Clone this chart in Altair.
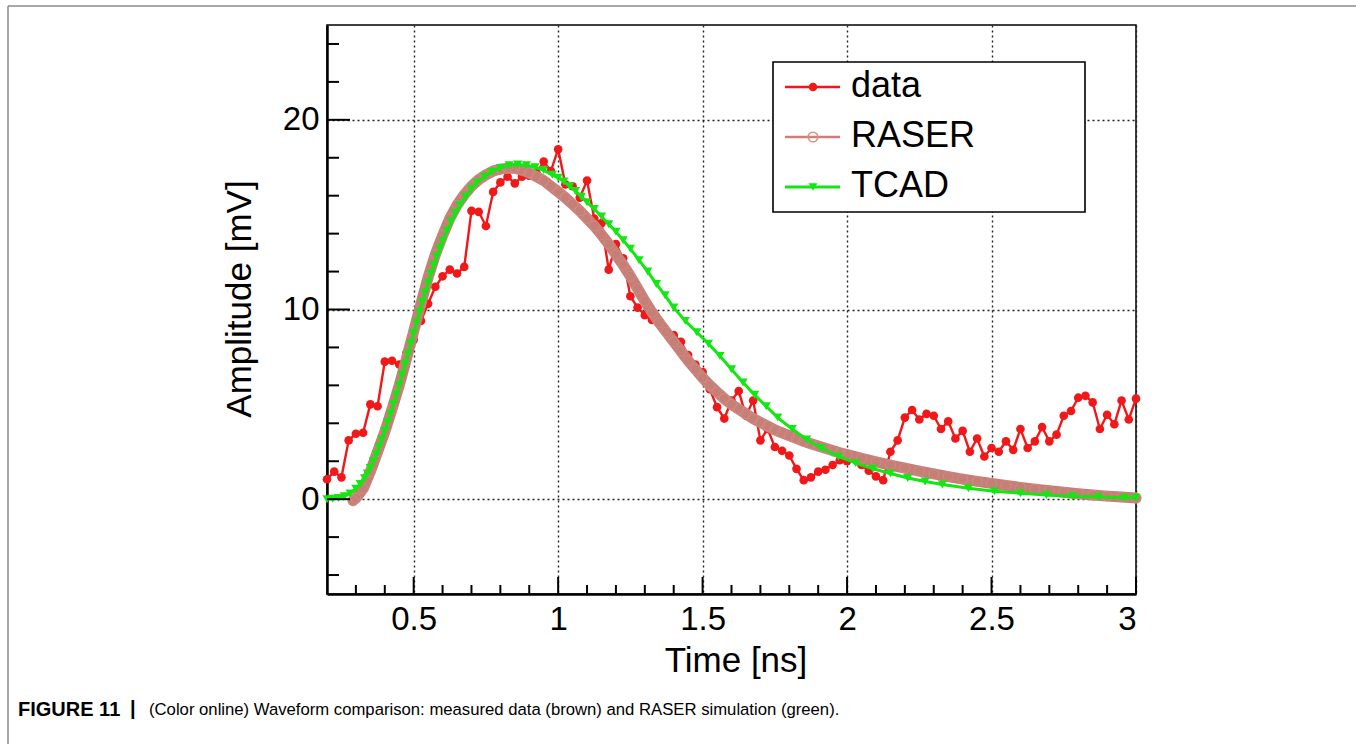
import altair as alt
import pandas as pd

FONT = "Liberation Sans"

# ---------------- data ----------------
data_t = [0.2, 0.225, 0.25, 0.275, 0.3, 0.325, 0.35, 0.375, 0.4, 0.425, 0.45, 0.475, 0.5, 0.525, 0.55, 0.575,
          0.6, 0.625, 0.65, 0.675, 0.7, 0.725, 0.75, 0.775, 0.8, 0.825, 0.85, 0.875, 0.9, 0.925, 0.95, 0.975,
          1.0, 1.025, 1.05, 1.075, 1.1, 1.125, 1.15, 1.175, 1.2, 1.225, 1.25, 1.275, 1.3, 1.325, 1.35, 1.375,
          1.4, 1.425, 1.45, 1.475, 1.5, 1.525, 1.55, 1.575, 1.6, 1.625, 1.65, 1.675, 1.7, 1.725, 1.75, 1.775,
          1.8, 1.825, 1.85, 1.875, 1.9, 1.925, 1.95, 1.975, 2.0, 2.025, 2.05, 2.075, 2.1, 2.125, 2.15, 2.175,
          2.2, 2.225, 2.25, 2.275, 2.3, 2.325, 2.35, 2.375, 2.4, 2.425, 2.45, 2.475, 2.5, 2.525, 2.55, 2.575,
          2.6, 2.625, 2.65, 2.675, 2.7, 2.725, 2.75, 2.775, 2.8, 2.825, 2.85, 2.875, 2.9, 2.925, 2.95, 2.975, 3.0]
data_v = [1.05, 1.45, 1.15, 3.10, 3.45, 3.50, 5.00, 4.90, 7.25, 7.30,
          7.10, 7.70, 8.40, 9.40, 10.30, 11.20, 11.75, 12.10, 11.90, 12.25,
          15.20, 15.15, 14.40, 16.20, 16.70, 17.00, 16.65, 17.00, 17.05, 17.20,
          17.80, 17.30, 18.45, 16.60, 16.50, 15.90, 16.80, 14.80, 14.55, 12.10,
          13.45, 12.70, 10.70, 10.10, 9.70, 9.45, 9.40, 8.80, 8.65, 8.30,
          7.60, 7.10, 6.70, 5.80, 4.85, 4.25, 5.20, 5.70, 4.40, 5.20,
          3.10, 3.70, 2.75, 2.55, 2.30, 1.60, 1.00, 1.15, 1.45, 1.55,
          1.80, 2.05, 2.00, 2.20, 1.80, 1.50, 1.20, 1.00, 2.50, 3.10,
          4.30, 4.70, 4.20, 4.50, 4.40, 3.70, 4.10, 3.20, 3.60, 2.50,
          3.20, 2.25, 2.70, 2.50, 3.05, 2.60, 3.70, 2.70, 3.05, 3.80,
          3.05, 3.40, 4.40, 4.65, 5.35, 5.45, 5.10, 3.70, 4.45, 3.95,
          5.20, 4.20, 5.30]

raser_t = [0.29, 0.3, 0.325, 0.35, 0.375, 0.4, 0.425, 0.45, 0.475, 0.5, 0.525, 0.55, 0.575, 0.6, 0.625, 0.65,
           0.675, 0.7, 0.725, 0.75, 0.775, 0.8, 0.825, 0.85, 0.875, 0.9, 0.925, 0.95, 0.975, 1.0, 1.025, 1.05,
           1.075, 1.1, 1.125, 1.15, 1.175, 1.2, 1.225, 1.25, 1.275, 1.3, 1.325, 1.35, 1.375, 1.4, 1.425, 1.45,
           1.475, 1.5, 1.525, 1.55, 1.575, 1.6, 1.625, 1.65, 1.675, 1.7, 1.725, 1.75, 1.775, 1.8, 1.825, 1.85,
           1.875, 1.9, 1.925, 1.95, 1.975, 2.0, 2.05, 2.1, 2.15, 2.2, 2.25, 2.3, 2.35, 2.4, 2.45, 2.5, 2.55,
           2.6, 2.65, 2.7, 2.75, 2.8, 2.85, 2.9, 2.95, 3.0]
raser_v = [-0.08, 0.05,
           0.55, 1.45, 2.5, 3.55, 4.75, 6.0, 7.4, 8.85, 10.3, 11.7,
           12.9, 13.9, 14.8, 15.5, 16.05, 16.5, 16.85, 17.1, 17.3, 17.4,
           17.45, 17.45, 17.35, 17.2, 17.0, 16.8, 16.5, 16.2, 15.9, 15.55,
           15.2, 14.8, 14.4, 13.95, 13.45, 12.9, 12.35, 11.75, 11.1, 10.45,
           9.85, 9.3, 8.8, 8.3, 7.8, 7.3, 6.85, 6.4, 6.0, 5.65,
           5.3, 5.0, 4.75, 4.5, 4.25, 4.05, 3.85, 3.65, 3.5, 3.35,
           3.2, 3.05, 2.92, 2.8, 2.68, 2.56, 2.45, 2.35,
           2.15, 1.97, 1.8, 1.64, 1.48, 1.33, 1.19, 1.06, 0.94, 0.83,
           0.72, 0.62, 0.53, 0.44, 0.36, 0.29, 0.22, 0.16, 0.11, 0.06]

tcad_t = [0.2, 0.22, 0.24, 0.26, 0.28, 0.3, 0.315, 0.33, 0.34, 0.35, 0.36, 0.37, 0.38, 0.39, 0.4, 0.41, 0.42,
          0.43, 0.44, 0.45, 0.46, 0.47, 0.48, 0.49, 0.5, 0.51, 0.52, 0.53, 0.54, 0.55, 0.56, 0.57, 0.58, 0.59,
          0.6, 0.615, 0.63, 0.645, 0.66, 0.68, 0.7, 0.72, 0.745, 0.77, 0.8, 0.83, 0.86, 0.89, 0.92, 0.95, 0.98,
          1.0, 1.02, 1.04, 1.06, 1.08, 1.1, 1.125, 1.15, 1.175, 1.2, 1.225, 1.25, 1.28, 1.31, 1.34, 1.37, 1.4,
          1.44, 1.48, 1.52, 1.56, 1.6, 1.64, 1.68, 1.72, 1.76, 1.81, 1.86, 1.91, 1.97, 2.03, 2.09, 2.15, 2.21,
          2.27, 2.33, 2.42, 2.51, 2.6, 2.69, 2.78, 2.87, 2.96, 3.0]
tcad_v = [0.0, 0.02, 0.06, 0.15, 0.3, 0.55, 0.8, 1.1,
          1.35, 1.65, 2.0, 2.35, 2.75, 3.15, 3.6, 4.05, 4.5, 5.0, 5.5, 6.0, 6.55, 7.1, 7.65, 8.2, 8.75, 9.3,
          9.85, 10.4, 10.9, 11.4, 11.9, 12.35, 12.8, 13.2, 13.6,
          14.15, 14.65, 15.1, 15.5, 15.95, 16.35, 16.7, 17.0, 17.25,
          17.45, 17.6, 17.65, 17.6, 17.5, 17.35, 17.1,
          16.95, 16.75, 16.5, 16.25, 15.95, 15.65,
          15.3, 14.9, 14.5, 14.1, 13.65, 13.2,
          12.6, 12.0, 11.35, 10.75, 10.1,
          9.4, 8.8, 8.2, 7.55, 6.85, 6.15, 5.5, 4.9, 4.3,
          3.7, 3.15, 2.7,
          2.25, 1.9, 1.6, 1.35, 1.12, 0.93, 0.77,
          0.57, 0.42, 0.31, 0.22, 0.16, 0.11, 0.08, 0.07]

x_major = [0.5, 1, 1.5, 2, 2.5, 3]
x_minor = [0.3, 0.4, 0.6, 0.7, 0.8, 0.9, 1.1, 1.2, 1.3, 1.4, 1.6, 1.7, 1.8, 1.9,
           2.1, 2.2, 2.3, 2.4, 2.6, 2.7, 2.8, 2.9]
y_major = [0, 10, 20]
y_minor = [-4, -2, 2, 4, 6, 8, 12, 14, 16, 18, 22, 24]
legend_labels = ["data", "RASER", "TCAD"]
x_title = "Time [ns]"
y_title = "Amplitude [mV]"
caption_bold = "FIGURE 11"
caption_bar = "|"
caption_text = "(Color online) Waveform comparison: measured data (brown) and RASER simulation (green)."

# ---------------- styles ----------------
W, H = 809, 569
RED = "#f01818"
GREEN = "#14e614"
BROWN = "#c67f76"
BROWN_EDGE = "#d8958f"

xs = alt.Scale(domain=[0.2, 3], nice=False, zero=False)
ys = alt.Scale(domain=[-5, 25], nice=False, zero=False)

df_data = pd.DataFrame({"t": data_t, "v": data_v})
df_raser = pd.DataFrame({"t": raser_t, "v": raser_v})
df_tcad = pd.DataFrame({"t": tcad_t, "v": tcad_v})

X_AX = alt.Axis(values=x_major, format=".2~f", grid=True, ticks=False, title=None,
                labelFontSize=33, labelPadding=9, labelFont=FONT, labelColor="black",
                domainWidth=2.5, domainColor="black",
                gridColor="#222222", gridDash=[2, 3], gridWidth=1.4)
Y_AX = alt.Axis(values=y_major, grid=True, ticks=False, title=None,
                labelFontSize=33, labelPadding=8, labelFont=FONT, labelColor="black",
                domainWidth=2.5, domainColor="black",
                gridColor="#222222", gridDash=[2, 3], gridWidth=1.4)


def xe():
    return alt.X("t:Q", scale=xs, axis=X_AX)


def ye():
    return alt.Y("v:Q", scale=ys, axis=Y_AX)


one = alt.Data(values=[{}])

# data series (bottom)
data_line = alt.Chart(df_data).mark_line(color=RED, strokeWidth=2.4).encode(x=xe(), y=ye())
data_pts = alt.Chart(df_data).mark_point(shape="circle", filled=True, color=RED, size=75, opacity=1).encode(
    x=xe(), y=ye())

# RASER band
raser_line = alt.Chart(df_raser).mark_line(color=BROWN, strokeWidth=11, strokeCap="round",
                                            strokeJoin="round").encode(x=xe(), y=ye())
raser_pts = alt.Chart(df_raser).mark_point(shape="circle", filled=False, color=BROWN_EDGE, size=100,
                                            strokeWidth=1.0, opacity=0.55).encode(x=xe(), y=ye())

# TCAD
tcad_line = alt.Chart(df_tcad).mark_line(color=GREEN, strokeWidth=3).encode(x=xe(), y=ye())
tcad_pts = alt.Chart(df_tcad).mark_point(shape="triangle-down", filled=True, color=GREEN, size=85,
                                          opacity=1).encode(x=xe(), y=ye())

# inward ticks
df_xmaj = pd.DataFrame({"t": x_major})
df_xmin = pd.DataFrame({"t": x_minor})
df_ymaj = pd.DataFrame({"v": y_major})
df_ymin = pd.DataFrame({"v": y_minor})
xmaj_ticks = alt.Chart(df_xmaj).mark_rule(color="black", strokeWidth=2).encode(
    x=xe(), y=alt.value(H), y2=alt.value(H - 17))
xmin_ticks = alt.Chart(df_xmin).mark_rule(color="black", strokeWidth=2).encode(
    x=xe(), y=alt.value(H), y2=alt.value(H - 9))
ymaj_ticks = alt.Chart(df_ymaj).mark_rule(color="black", strokeWidth=2).encode(
    y=ye(), x=alt.value(0), x2=alt.value(23))
ymin_ticks = alt.Chart(df_ymin).mark_rule(color="black", strokeWidth=2).encode(
    y=ye(), x=alt.value(0), x2=alt.value(12))

# legend (drawn by hand)
LX0, LX1, LY0, LY1 = 446, 758, 37, 187
leg_box = alt.Chart(one).mark_rect(fill="white", stroke="black", strokeWidth=1.6).encode(
    x=alt.value(LX0), x2=alt.value(LX1), y=alt.value(LY0), y2=alt.value(LY1))
rows_y = [62, 112, 162]
leg_layers = [leg_box]
styles = [
    dict(color=RED, width=2.4, shape="circle", filled=True, mcolor=RED, size=75),
    dict(color="#cf7f77", width=2.4, shape="circle", filled=False, mcolor="#d4918b", size=95),
    dict(color=GREEN, width=3, shape="triangle-down", filled=True, mcolor=GREEN, size=80),
]
for lab, ry, st in zip(legend_labels, rows_y, styles):
    leg_layers.append(alt.Chart(one).mark_rule(color=st["color"], strokeWidth=st["width"]).encode(
        x=alt.value(458), x2=alt.value(513), y=alt.value(ry)))
    leg_layers.append(alt.Chart(one).mark_point(shape=st["shape"], filled=st["filled"], color=st["mcolor"],
                                                size=st["size"], opacity=1, strokeWidth=1.5).encode(
        x=alt.value(486), y=alt.value(ry)))
    leg_layers.append(alt.Chart(one).mark_text(text=lab, font=FONT, fontSize=36, align="left",
                                               baseline="alphabetic", color="black").encode(
        x=alt.value(524), y=alt.value(ry + 10)))

# axis titles
xtitle = alt.Chart(one).mark_text(text=x_title, font=FONT, fontSize=35, align="center",
                                  baseline="middle", color="black").encode(
    x=alt.value(409), y=alt.value(636))
ytitle = alt.Chart(one).mark_text(text=y_title, font=FONT, fontSize=35, align="center",
                                  baseline="middle", angle=270, color="black").encode(
    x=alt.value(-87), y=alt.value(274))

# page frame + caption
frame_top = alt.Chart(one).mark_rule(color="#8a8a8a", strokeWidth=1.5).encode(
    x=alt.value(-319), x2=alt.value(1029), y=alt.value(-19))
frame_left = alt.Chart(one).mark_rule(color="#8a8a8a", strokeWidth=1.5).encode(
    x=alt.value(-319), y=alt.value(-19), y2=alt.value(719))
cap1 = alt.Chart(one).mark_text(text=caption_bold, font=FONT, fontSize=20, fontWeight="bold",
                                align="left", baseline="middle", color="black").encode(
    x=alt.value(-309), y=alt.value(685))
cap_bar = alt.Chart(one).mark_text(text=caption_bar, font=FONT, fontSize=20, fontWeight="bold",
                                   align="left", baseline="middle", color="black").encode(
    x=alt.value(-197), y=alt.value(684))
cap2 = alt.Chart(one).mark_text(text=caption_text, font=FONT, fontSize=16.7, align="left",
                                baseline="middle", color="black").encode(
    x=alt.value(-178), y=alt.value(685))

chart = alt.layer(
    data_line, data_pts, raser_line, raser_pts, tcad_line, tcad_pts,
    xmaj_ticks, xmin_ticks, ymaj_ticks, ymin_ticks,
    *leg_layers, xtitle, ytitle, frame_top, frame_left, cap1, cap_bar, cap2
).properties(
    width=W, height=H,
    padding={"left": 327, "top": 25, "right": 220, "bottom": 150},
    autosize=alt.AutoSizeParams(type="none"),
    background="white",
).configure_view(stroke="black", strokeWidth=1.5)

chart.save("out.html", embed_options={"renderer": "svg", "actions": False})
